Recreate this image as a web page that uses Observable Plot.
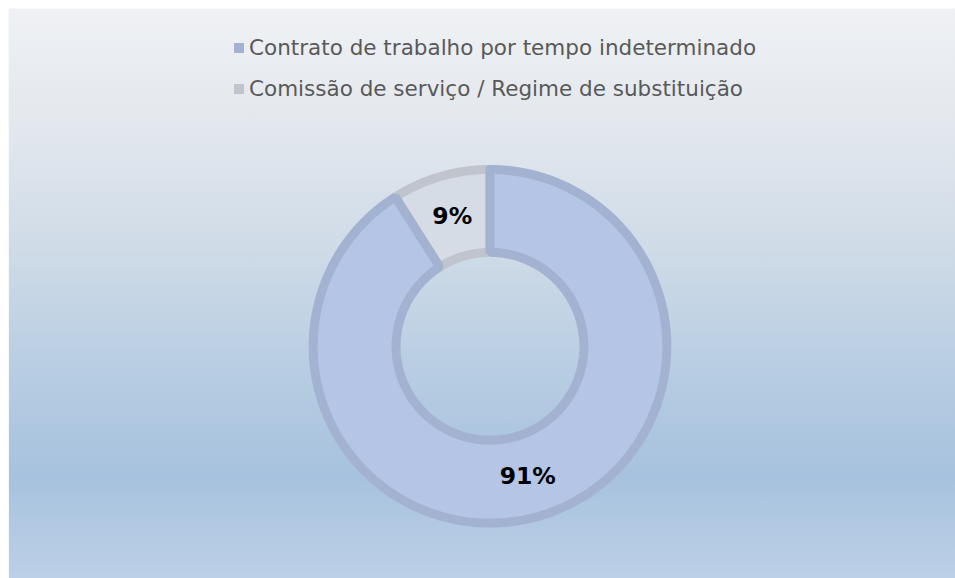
<!DOCTYPE html>
<html>
<head>
<meta charset="utf-8">
<script src="https://cdn.jsdelivr.net/npm/d3@7"></script>
<script src="https://cdn.jsdelivr.net/npm/@observablehq/plot@0.6"></script>
<style>
  html, body { margin: 0; padding: 0; background: #ffffff; width: 955px; height: 578px; overflow: hidden; }
  #frame {
    position: absolute; left: 8px; top: 8px; width: 947px; height: 570px;
    background: linear-gradient(to bottom, #eff1f4 0%, #e3e8ee 20%, #cfdbe7 42%, #b6cce2 65%, #a7c2de 82%, #bcd0e7 100%);
    border-left: 1px solid #f7f8fa; border-top: 1px solid #f7f8fa;
    box-sizing: border-box;
    font-family: "DejaVu Sans", Verdana, sans-serif;
  }
  #legend { position: absolute; left: 225px; top: 18px; }
  .row { display: flex; align-items: center; height: 41px; font-size: 21.5px; color: #595959; white-space: nowrap; }
  .sw { width: 10px; height: 10px; margin-right: 5px; flex: none; }
  #chart { position: absolute; left: 0; top: 120px; }
  #chart svg { background: transparent; overflow: visible; }
</style>
</head>
<body>
<div id="frame">
  <div id="legend"></div>
  <div id="chart"></div>
</div>
<script>
const categories = ["Contrato de trabalho por tempo indeterminado", "Comissão de serviço / Regime de substituição"];
const values = [91, 9];
const labels = ["91%", "9%"];
const fills = ["#b4c5e6", "#d6dce5"];
const strokes = ["#a3b2d0", "#c0c5cd"];

// Legend
const legend = document.getElementById("legend");
categories.forEach((c, i) => {
  const row = document.createElement("div");
  row.className = "row";
  const sw = document.createElement("span");
  sw.className = "sw";
  sw.style.background = strokes[i];
  const t = document.createElement("span");
  t.textContent = c;
  row.appendChild(sw); row.appendChild(t);
  legend.appendChild(row);
});

// Donut geometry (unit radius)
const outerR = 1, innerR = 94 / 177;
const pie = d3.pie().sort(null).value(d => d.value);
const arcs = pie(categories.map((c, i) => ({cat: c, value: values[i], label: labels[i], i})));

function ringPolygon(a) {
  const pts = [];
  const n = Math.max(8, Math.ceil((a.endAngle - a.startAngle) / 0.01));
  for (let k = 0; k <= n; k++) {
    const t = a.startAngle + (a.endAngle - a.startAngle) * k / n;
    pts.push({x: outerR * Math.sin(t), y: outerR * Math.cos(t), cat: a.data.cat});
  }
  for (let k = n; k >= 0; k--) {
    const t = a.startAngle + (a.endAngle - a.startAngle) * k / n;
    pts.push({x: innerR * Math.sin(t), y: innerR * Math.cos(t), cat: a.data.cat});
  }
  pts.push({...pts[0]});
  return pts;
}

const labelR = (outerR + innerR) / 2;
const labelData = arcs.map(a => {
  const m = (a.startAngle + a.endAngle) / 2;
  return {x: labelR * Math.sin(m), y: labelR * Math.cos(m), label: a.data.label};
});

const W = 947, H = 450, px = 177, cx = 481, cy = 217;
// draw small slice first so the large slice's border sits on top
const order = arcs.slice().reverse();
const marks = order.map(a => Plot.line(ringPolygon(a), {
  x: "x", y: "y",
  fill: fills[a.data.i], stroke: strokes[a.data.i],
  strokeWidth: 9, strokeLinejoin: "miter", curve: "linear"
}));
marks.push(Plot.text(labelData, {
  x: "x", y: "y", text: "label",
  fontSize: 23.5, fontWeight: "bold", fill: "#000000",
  fontFamily: "DejaVu Sans, Verdana, sans-serif"
}));

const plot = Plot.plot({
  width: W, height: H,
  margin: 0,
  x: {domain: [-cx / px, (W - cx) / px], range: [0, W], axis: null},
  y: {domain: [-(H - cy) / px, cy / px], range: [H, 0], axis: null},
  style: {background: "transparent", overflow: "visible"},
  marks
});
document.getElementById("chart").appendChild(plot);
</script>
</body>
</html>
